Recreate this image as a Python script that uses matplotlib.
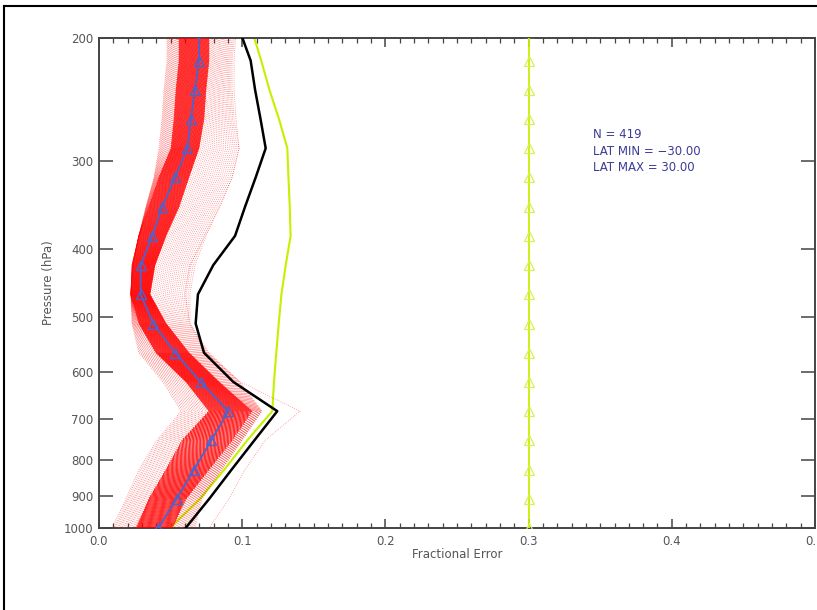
import numpy as np
import matplotlib
matplotlib.use("Agg")
import matplotlib.pyplot as plt
from matplotlib.lines import Line2D
from matplotlib.ticker import FixedLocator, MultipleLocator, FixedFormatter

# ---------------- data ----------------
pressure = [1000.0, 908.5, 825.4, 749.9, 681.3, 618.9, 562.3, 510.9, 464.2,
            421.7, 383.1, 348.1, 316.2, 287.3, 261.0, 237.1, 215.4, 195.8]

mean_err = [0.0414, 0.0542, 0.0663, 0.0784, 0.0903, 0.0710, 0.0531, 0.0379, 0.0291,
            0.0291, 0.0372, 0.0442, 0.0531, 0.0617, 0.0642, 0.0670, 0.0698, 0.0700]

black_err = [0.0605, 0.0770, 0.0926, 0.1085, 0.1245, 0.0938, 0.0733, 0.0675, 0.0691,
             0.0798, 0.0950, 0.1020, 0.1094, 0.1164, 0.1128, 0.1090, 0.1059, 0.0985]

yellow_err = [0.0496, 0.0705, 0.0875, 0.1035, 0.1210, 0.1222, 0.1238, 0.1255, 0.1274,
              0.1304, 0.1338, 0.1332, 0.1323, 0.1315, 0.1257, 0.1190, 0.1133, 0.1070]

threshold = 0.3

# envelopes of the 419 individual (red, dotted) profiles
outer_lo = [0.0091, 0.0189, 0.0279, 0.0405, 0.0573, 0.0447, 0.0279, 0.0230, 0.0223,
            0.0230, 0.0279, 0.0328, 0.0384, 0.0419, 0.0440, 0.0454, 0.0475, 0.0475]
core_lo = [0.0258, 0.0349, 0.0468, 0.0580, 0.0768, 0.0608, 0.0398, 0.0279, 0.0223,
           0.0237, 0.0279, 0.0349, 0.0419, 0.0503, 0.0524, 0.0538, 0.0559, 0.0559]
core_hi = [0.0510, 0.0608, 0.0768, 0.0929, 0.1068, 0.0838, 0.0628, 0.0468, 0.0356,
           0.0391, 0.0468, 0.0559, 0.0628, 0.0698, 0.0733, 0.0747, 0.0768, 0.0768]
outer_hi = [0.0670, 0.0719, 0.0859, 0.0999, 0.1138, 0.0985, 0.0768, 0.0635, 0.0635,
            0.0670, 0.0747, 0.0838, 0.0929, 0.0978, 0.0943, 0.0929, 0.0929, 0.0950]
outlier = [0.0768, 0.0908, 0.1020, 0.1160, 0.1404, 0.0985, 0.0747, 0.0635, 0.0600,
           0.0635, 0.0740, 0.0845, 0.0929, 0.0978, 0.0957, 0.0943, 0.0943, 0.0957]

n_profiles = 419
info_lines = ["N = 419", "LAT MIN = \u221230.00", "LAT MAX = 30.00"]

x_ticks = [0.0, 0.1, 0.2, 0.3, 0.4, 0.5]
x_tick_labels = ["0.0", "0.1", "0.2", "0.3", "0.4", "0.5"]
y_ticks = [200, 300, 400, 500, 600, 700, 800, 900, 1000]

# ---------------- figure ----------------
W, H = 817, 610
fig = plt.figure(figsize=(W / 100, H / 100), dpi=100)
fig.patch.set_facecolor("white")

ax_l, ax_r, ax_t, ax_b = 99, 815, 38, 528
ax = fig.add_axes([ax_l / W, 1 - ax_b / H, (ax_r - ax_l) / W, (ax_b - ax_t) / H])

P = np.array(pressure)
olo, clo, chi, ohi = map(np.array, (outer_lo, core_lo, core_hi, outer_hi))

red = "#ff0000"


def dot(i):
    return ((i % 4) * 0.7, (1.0, 1.8))


# yellow profile (drawn under the red cloud)
ax.plot(yellow_err, P, color="#c6f000", lw=1.5, zorder=2)

# red cloud of individual profiles, drawn across the read envelopes
for i, q in enumerate(np.linspace(0, 1, 16)):
    ax.plot(olo + q * (clo - olo), P, color=red, lw=0.55, ls=dot(i), alpha=0.6, zorder=3)
for i, q in enumerate(np.linspace(0, 1, 130)):
    ax.plot(clo + q * (chi - clo), P, color=red, lw=0.65, ls=dot(i), alpha=0.9, zorder=3)
for i, q in enumerate(np.linspace(0, 1, 22)):
    ax.plot(chi + q * (ohi - chi), P, color=red, lw=0.55, ls=dot(i), alpha=0.55, zorder=3)
ax.plot(outlier, P, color=red, lw=0.55, ls=dot(1), alpha=0.55, zorder=3)

# black profile
ax.plot(black_err, P, color="black", lw=1.8, zorder=4)

# mean profile
ax.plot(mean_err, P, color="#4a64d0", lw=1.3, marker="^", ms=6.5,
        mfc="none", mec="#4a64d0", mew=1.0, zorder=5)

# threshold line
ax.plot([threshold] * len(pressure), P, color="#c8f000", lw=1.3, marker="^",
        ms=6.5, mfc="none", mec="#d8f050", mew=0.9, zorder=5)

# axes
ax.set_yscale("log")
ax.set_ylim(1000, 200)
ax.set_xlim(0, 0.5)
ax.yaxis.set_major_locator(FixedLocator(y_ticks))
ax.yaxis.set_major_formatter(FixedFormatter([str(v) for v in y_ticks]))
ax.yaxis.set_minor_locator(FixedLocator([]))
ax.xaxis.set_major_locator(FixedLocator(x_ticks))
ax.xaxis.set_major_formatter(FixedFormatter(x_tick_labels))
ax.xaxis.set_minor_locator(MultipleLocator(0.01))

spc = "#444444"
for s in ax.spines.values():
    s.set_color(spc)
    s.set_linewidth(1.4)

ax.tick_params(axis="x", which="major", direction="in", length=6.5, width=1.1,
               color=spc, top=True, bottom=True, labelsize=8.5, labelcolor="#555555", pad=5)
ax.tick_params(axis="x", which="minor", direction="in", length=3.6, width=0.9,
               color=spc, top=True, bottom=True)
ax.tick_params(axis="y", which="major", direction="in", length=10, width=1.1,
               color=spc, left=True, right=True, labelsize=8.5, labelcolor="#555555", pad=4)

ax.set_xlabel("Fractional Error", fontsize=8.5, color="#555555")
ax.set_ylabel("Pressure (hPa)", fontsize=8.5, color="#555555")
ax.xaxis.set_label_coords(0.5, -26 / 490)
ax.xaxis.label.set_va("center")
ax.yaxis.set_label_coords(-51 / 716, 0.5)
ax.yaxis.label.set_va("center")

# annotation
for i, t in enumerate(info_lines):
    fig.text(593 / W, 1 - (135 + 16.2 * i) / H, t, fontsize=8.5, color="#3c3c96",
             ha="left", va="center")

# outer frame of the page
fig.add_artist(Line2D([4 / W, 1.0], [1 - 6 / H, 1 - 6 / H], transform=fig.transFigure,
                      color="black", lw=1.5))
fig.add_artist(Line2D([4 / W, 4 / W], [1 - 6 / H, 0.0], transform=fig.transFigure,
                      color="black", lw=1.5))

fig.savefig("out.png", dpi=100, facecolor="white")
